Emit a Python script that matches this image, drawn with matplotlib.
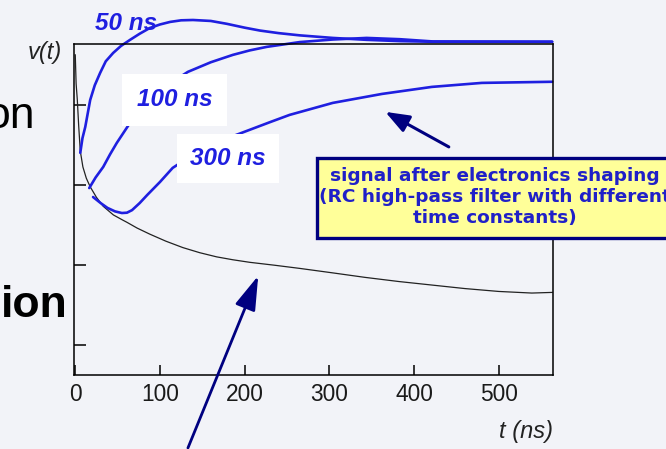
import numpy as np
import matplotlib.pyplot as plt
from matplotlib.patches import Rectangle

# detector pulse (black) and the same pulse after RC shaping (blue)
t_raw = [0, 1, 2.4, 4, 5.9, 9, 13, 17.6, 25, 33, 45, 56, 61, 73, 88, 107, 127,
         147, 167, 186, 206, 235, 265, 304, 342, 382, 421, 460, 500, 539, 563]
v_raw = [1.0, 0.91, 0.86, 0.78, 0.70, 0.65, 0.615, 0.588, 0.555, 0.527, 0.50,
         0.484, 0.477, 0.459, 0.44, 0.418, 0.398, 0.382, 0.369, 0.36, 0.352,
         0.343, 0.333, 0.319, 0.305, 0.292, 0.281, 0.27, 0.261, 0.256, 0.258]

t_50 = [5.9, 8.5, 11.8, 17.6, 23, 29.4, 36, 44.7, 54, 64.7, 76, 88, 100, 112,
        125, 139, 160, 179, 200, 218, 240, 265, 304, 344, 383, 422, 563]
v_50 = [0.694, 0.74, 0.775, 0.859, 0.905, 0.944, 0.98, 1.006, 1.028, 1.047,
        1.066, 1.084, 1.095, 1.103, 1.108, 1.109, 1.106, 1.097, 1.085, 1.076,
        1.068, 1.061, 1.053, 1.047, 1.043, 1.041, 1.041]

t_100 = [16.5, 24, 33, 41, 49, 58, 67, 82, 100, 117, 133, 160, 186, 206, 226,
         265, 304, 344, 383, 422, 563]
v_100 = [0.584, 0.617, 0.65, 0.689, 0.725, 0.761, 0.797, 0.84, 0.885, 0.92,
         0.947, 0.977, 1.0, 1.014, 1.025, 1.040, 1.048, 1.053, 1.049, 1.042,
         1.041]

t_300 = [21, 30, 38, 47, 55, 61, 67, 76, 85, 100, 115, 140, 165, 185, 206, 230,
         253, 304, 362, 421, 480, 563]
v_300 = [0.556, 0.537, 0.522, 0.511, 0.506, 0.507, 0.515, 0.537, 0.5625,
         0.603, 0.647, 0.69, 0.72, 0.745, 0.766, 0.79, 0.8125, 0.85, 0.878,
         0.9, 0.9125, 0.916]

xticks = [0, 100, 200, 300, 400, 500]
yticks = [0.094, 0.344, 0.594, 0.844]

blue = '#1f1fe0'
navy = '#000080'
bg = '#f2f3f8'

fig = plt.figure(figsize=(6.66, 4.49), dpi=100, facecolor=bg)
ax = fig.add_axes([74 / 666, 74 / 449, 479 / 666, 331 / 449])
ax.set_facecolor('none')

ax.plot(t_raw, v_raw, color='#222222', lw=0.9, zorder=2)
for tt, vv in [(t_50, v_50), (t_100, v_100), (t_300, v_300)]:
    ax.plot(tt, vv, color=blue, lw=1.9, clip_on=False, zorder=2,
            solid_capstyle='round', solid_joinstyle='round')

ax.set_xlim(-1.5, 564)
ax.set_ylim(0, 1.034)
ax.set_xticks(xticks)
ax.set_yticks(yticks)
ax.set_yticklabels([])
ax.tick_params(axis='x', direction='in', length=7, width=1.1, pad=6,
               labelsize=16.4, labelcolor='#1a1a1a')
ax.tick_params(axis='y', direction='in', length=8.5, width=1.1)
for lab in ax.get_xticklabels():
    lab.set_family('Liberation Sans')
for s in ax.spines.values():
    s.set_linewidth(1.1)

ax.text(-0.025, 0.973, 'v(t)', transform=ax.transAxes, ha='right',
        va='center', style='italic', fontsize=17, family='Liberation Sans',
        color='#222222')
ax.text(1.0, -0.172, 't (ns)', transform=ax.transAxes, ha='right',
        va='center', style='italic', fontsize=17, family='Liberation Sans',
        color='#222222')

# time constant labels
lab_kw = dict(color=blue, fontsize=17.5, fontweight='bold', style='italic',
              family='Liberation Sans', ha='center', va='baseline', zorder=4)
ax.text(60.5, 1.078, '50 ns', clip_on=False, **lab_kw)
ax.text(117.4, 0.84, '100 ns',
        bbox=dict(boxstyle='square,pad=0.6', fc='white', ec='none'), **lab_kw)
ax.text(180, 0.656, '300 ns',
        bbox=dict(boxstyle='square,pad=0.55', fc='white', ec='none'), **lab_kw)

# arrows
ax.annotate('', xy=(366, 0.822), xytext=(441, 0.7125),
            arrowprops=dict(arrowstyle='-|>,head_length=1.45,head_width=0.55',
                            color=navy, lw=2.2, shrinkA=0, shrinkB=0,
                            mutation_scale=10),
            annotation_clip=False)
ax.annotate('', xy=(216, 0.31), xytext=(133, -0.228),
            arrowprops=dict(arrowstyle='-|>,head_length=2.1,head_width=0.65',
                            color=navy, lw=2.0, shrinkA=0, shrinkB=0,
                            mutation_scale=10),
            annotation_clip=False)

# yellow note box
fig.add_artist(Rectangle((317 / 666, (449 - 238) / 449), 0.6, 80 / 449,
                         transform=fig.transFigure, fc='#ffff99', ec=navy,
                         lw=2.4, zorder=5))
fig.text(495 / 666, (449 - 197) / 449,
         'signal after electronics shaping\n'
         '(RC high-pass filter with different\n'
         'time constants)',
         ha='center', va='center', multialignment='center', fontsize=13.3,
         fontweight='bold', family='DejaVu Sans', color='#2020c8',
         linespacing=1.22, zorder=6)

# slide text cut off at the left edge
fig.text(35 / 666, (449 - 128) / 449, 'on', ha='right', va='baseline',
         fontsize=32, family=['Liberation Sans Narrow', 'Liberation Sans'],
         color='black')
fig.text(68 / 666, (449 - 317) / 449, 'ion', ha='right', va='baseline',
         fontsize=32, fontweight='bold',
         family=['Liberation Sans Narrow', 'Liberation Sans'], color='black')

fig.savefig('out.png', dpi=100, facecolor=bg)
